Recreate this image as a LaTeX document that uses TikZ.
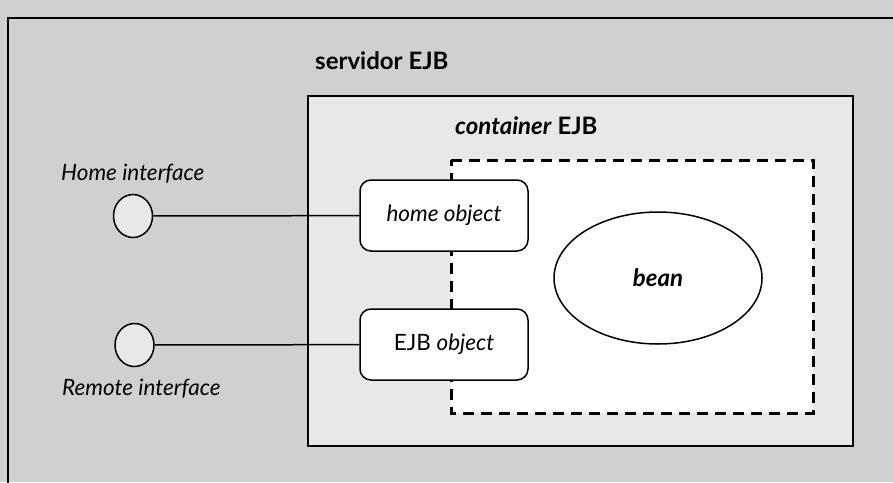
\documentclass[tikz,border=0pt]{standalone}
\usepackage{fontspec}
\setmainfont{Lato}
\usetikzlibrary{shapes.geometric}
\definecolor{outerbg}{HTML}{D0D0D0}
\definecolor{innerbg}{HTML}{E8E8E8}
\begin{document}
\begin{tikzpicture}[x=1pt,y=-1pt,
  lbl/.style={font=\fontsize{22.5}{24}\selectfont, inner sep=0pt},
  hdr/.style={font=\fontsize{24}{26}\selectfont\bfseries, inner sep=0pt},
  objbox/.style={draw, line width=1.5pt, fill=white, rounded corners=11pt,
    minimum width=168pt, minimum height=71pt, inner sep=0pt,
    font=\fontsize{22.5}{24}\selectfont},
  iface/.style={draw, line width=1.5pt, fill=innerbg, ellipse,
    minimum width=39pt, minimum height=43pt, inner sep=0pt},
  wire/.style={line width=1.5pt}]
\useasboundingbox (0,0) rectangle (893,482);
% outer server area
\fill[outerbg] (0,0) rectangle (893,482);
\draw[line width=2pt] (8,490) -- (8,18) -- (900,18);
% container area
\draw[line width=2pt, fill=innerbg] (308,96) rectangle (853,446);
% dashed bean area
\fill[white] (451,160) rectangle (813,413);
\draw[line width=3pt, dash pattern=on 11pt off 7pt] (451,160) -- (813,160) -- (813,413) -- (451,413) -- cycle;
% labels
\node[hdr, anchor=west] (srv) at (315,61) {servidor EJB};
\node[hdr, anchor=west] (ctr) at (455,126) {\textit{container} EJB};
\node[lbl, anchor=west] (hil) at (61,174) {\textit{Home interface}};
\node[lbl, anchor=west] (ril) at (62,389) {\textit{Remote interface}};
% nodes
\node[iface] (hi) at (133,216) {};
\node[iface] (ri) at (134.5,345) {};
\node[objbox] (ho) at (444,215.5) {\textit{home object}};
\node[objbox] (eo) at (444,344.5) {EJB \textit{object}};
\node[draw, line width=1.5pt, fill=white, ellipse, minimum width=208pt, minimum height=132pt, inner sep=0pt,
  font=\fontsize{24}{26}\selectfont\bfseries\itshape] (bean) at (658,278) {bean};
% connectors
\draw[wire] (hi) -- (ho);
\draw[wire] (ri) -- (eo);
\end{tikzpicture}
\end{document}
